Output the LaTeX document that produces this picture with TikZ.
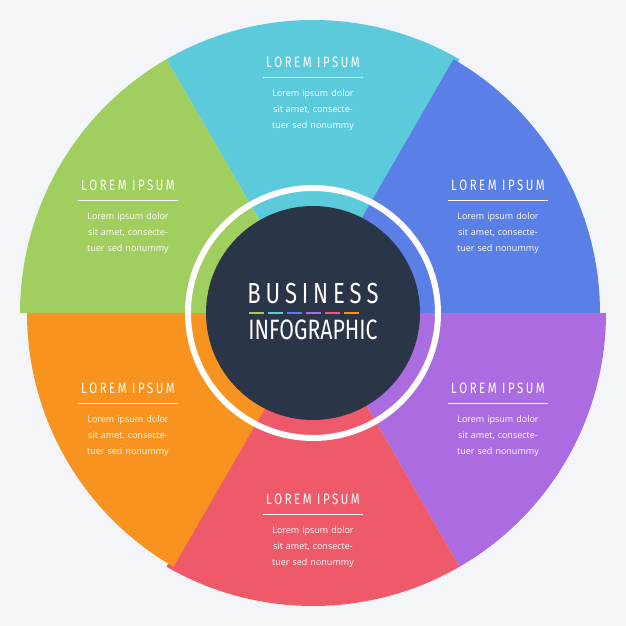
\documentclass[tikz,border=0pt]{standalone}
\usepackage{fontspec}
\setmainfont{Open Sans}
\newfontfamily\condfont[FakeStretch=0.76]{Fira Sans}
\definecolor{bgcol}{HTML}{F3F5F9}
\definecolor{darkcol}{HTML}{2B3548}
\definecolor{cyancol}{HTML}{5BCADB}
\definecolor{bluecol}{HTML}{5A80E8}
\definecolor{purplecol}{HTML}{AA6CE0}
\definecolor{redcol}{HTML}{EE5A6A}
\definecolor{orangecol}{HTML}{F7931E}
\definecolor{greencol}{HTML}{A0CF60}
\tikzset{
  title/.style={text=white,font=\condfont\fontsize{15}{15}\selectfont,inner sep=0pt},
  body/.style={text=white,font=\fontsize{9}{16}\selectfont,align=center,inner sep=0pt,text width=110pt},
  bar/.style={line width=2.5pt}
}
\newcommand{\sector}[4]{% shift, start, end, colour
  \fill[#4,shift={#1}] (313,313) -- ++(#2:293pt) arc[start angle=#2,end angle=#3,radius=293pt] -- cycle;}
\newcommand{\block}[3]{% name, x, y
  \node[title] (#1t) at (#2,#3) {L\,O\,R\,E\,M\ \,I\,P\,S\,U\,M};
  \draw[white,line width=1pt] (#2-50,#3+15) coordinate (#1a) -- (#2+50,#3+15) coordinate (#1b);
  \node[body,anchor=north] (#1x) at (#2,#3+27) {Lorem ipsum dolor\\sit amet, consecte-\\tuer sed nonummy};}
\begin{document}
\begin{tikzpicture}[x=1pt,y=-1pt]
  \fill[bgcol] (0,0) rectangle (626,626);
  \useasboundingbox (0,0) rectangle (626,626);
  % sectors
  \sector{(0,0)}{60}{120}{cyancol}
  \sector{(-6,0)}{0}{60}{bluecol}
  \sector{(0,0)}{-60}{0}{purplecol}
  \sector{(0,0)}{-120}{-60}{redcol}
  \sector{(7,0)}{-180}{-120}{orangecol}
  \sector{(0,0)}{120}{180}{greencol}
  % centre
  \draw[white,line width=6pt] (313,313) circle[radius=125pt];
  \fill[darkcol] (313,313) circle[radius=107pt] node (hub) {};
  \node[text=white,font=\condfont\fontsize{29}{29}\selectfont] (biz) at (313,294) {B\,U\,S\,I\,N\,E\,S\,S};
  \node[text=white,font=\condfont\fontsize{28}{28}\selectfont] (info) at (313,330) {INFOGRAPHIC};
  \foreach \c [count=\i] in {greencol,cyancol,bluecol,purplecol,redcol,orangecol}
    \draw[\c,bar] (247+\i*19-19+2,313) -- ++(15,0);
  % labels
  \block{n1}{313}{62}
  \block{n2}{498}{185}
  \block{n3}{498}{388}
  \block{n4}{313}{499}
  \block{n5}{128}{388}
  \block{n6}{128}{185}
\end{tikzpicture}
\end{document}
